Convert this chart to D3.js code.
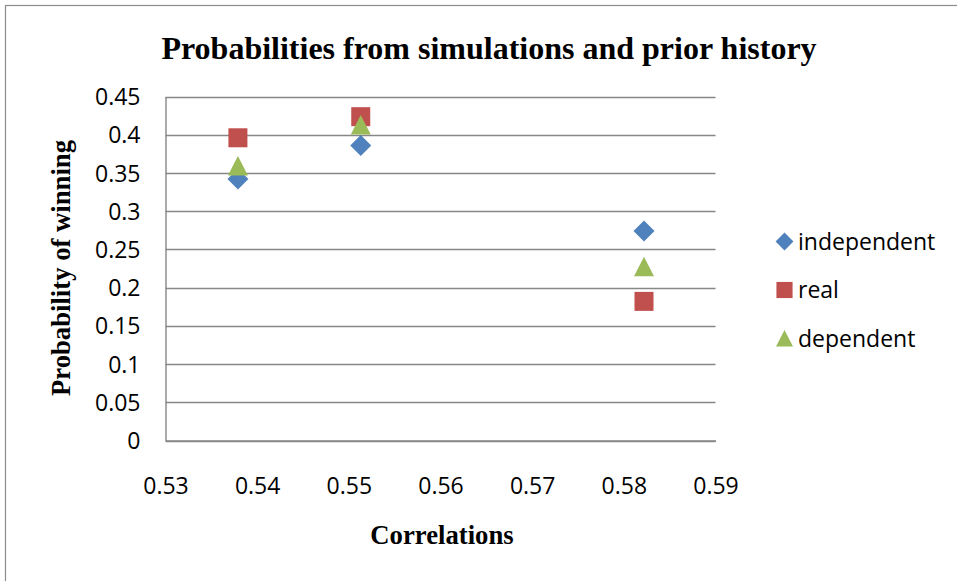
<!DOCTYPE html>
<html><head><meta charset="utf-8">
<script src="https://cdn.jsdelivr.net/npm/d3@7"></script>
<style>
html,body{margin:0;padding:0;background:#fff;overflow:hidden}
svg{display:block}
</style></head>
<body>
<svg id="chart" width="957" height="581"></svg>
<script>
const seriesNames = ["independent", "real", "dependent"];
const correlations = [0.5379, 0.5513, 0.5822];
const independentValues = [0.342, 0.386, 0.274];
const realValues = [0.396, 0.4236, 0.182];
const dependentValues = [0.359, 0.4127, 0.2274];
const xTicks = [0.53, 0.54, 0.55, 0.56, 0.57, 0.58, 0.59];
const yTicks = [0, 0.05, 0.1, 0.15, 0.2, 0.25, 0.3, 0.35, 0.4, 0.45];
const seriesColors = ["#4F81BD", "#C0504D", "#9BBB59"];
const titleText = "Probabilities from simulations and prior history";
const xTitle = "Correlations";
const yTitle = "Probability of winning";

(function () {
const svg = d3.select("#chart");
const pLeft = 165.5, pRight = 715.5, pTop = 96.5, pBottom = 440.5;
const x = d3.scaleLinear().domain([0.53, 0.59]).range([pLeft, pRight]);
const y = d3.scaleLinear().domain([0, 0.45]).range([pBottom, pTop]);
const grid = "#878787";
const sansFont = "'Open Sans', sans-serif";
const serifFont = "'Liberation Serif', 'Times New Roman', serif";

// outer border (clipped by the window on right and bottom)
svg.append("rect").attr("x", 5.5).attr("y", 5.5).attr("width", 1100).attr("height", 1100)
  .attr("fill", "none").attr("stroke", "#8c8c8c").attr("stroke-width", 1.2);

// gridlines
svg.append("g").selectAll("line").data(yTicks).join("line")
  .attr("x1", pLeft).attr("x2", pRight)
  .attr("y1", d => Math.round(y(d)) + 0.5).attr("y2", d => Math.round(y(d)) + 0.5)
  .attr("stroke", grid).attr("stroke-width", 1.4);

// axes
const yAxis = d3.axisLeft(y).tickValues(yTicks).tickSize(0).tickPadding(25)
  .tickFormat(d => String(+d.toFixed(2)));
const gy = svg.append("g").attr("transform", `translate(${pLeft},0)`).call(yAxis);
gy.select(".domain").attr("stroke", grid).attr("stroke-width", 1.4);
gy.selectAll("text").attr("font-family", sansFont).attr("font-size", 23).attr("fill", "#000").attr("dy", "0.35em");

const xAxis = d3.axisBottom(x).tickValues(xTicks).tickSize(0).tickPadding(37)
  .tickFormat(d => d.toFixed(2));
const gx = svg.append("g").attr("transform", `translate(0,${pBottom})`).call(xAxis);
gx.select(".domain").attr("stroke", grid).attr("stroke-width", 1.4);
gx.selectAll("text").attr("font-family", sansFont).attr("font-size", 23).attr("fill", "#000");

// markers
const allValues = [independentValues, realValues, dependentValues];
function markerPath(i) {
  if (i === 0) return "M0,-10.5L10.5,0L0,10.5L-10.5,0Z";
  if (i === 1) return "M-9.5,-9.5H9.5V9.5H-9.5Z";
  return "M0,-10L10,9.5H-10Z";
}
allValues.forEach((vals, i) => {
  svg.append("g").selectAll("path").data(vals).join("path")
    .attr("d", markerPath(i))
    .attr("transform", (d, j) => `translate(${x(correlations[j])},${y(d)})`)
    .attr("fill", seriesColors[i]);
});

// legend
const legendY = [241.5, 290, 338.5];
const lg = svg.append("g");
seriesNames.forEach((name, i) => {
  lg.append("path").attr("d", markerPath(i))
    .attr("transform", `translate(784.5,${legendY[i]}) scale(0.85)`)
    .attr("fill", seriesColors[i]);
  lg.append("text").attr("x", 798).attr("y", legendY[i]).attr("dy", "0.35em")
    .attr("font-family", sansFont).attr("font-size", 23).attr("fill", "#000").text(name);
});

// titles
svg.append("text").attr("x", 489).attr("y", 59).attr("text-anchor", "middle")
  .attr("font-family", serifFont).attr("font-weight", "bold").attr("font-size", 32)
  .attr("fill", "#000").text(titleText);
svg.append("text").attr("x", 442).attr("y", 544).attr("text-anchor", "middle")
  .attr("font-family", serifFont).attr("font-weight", "bold").attr("font-size", 26.7)
  .attr("fill", "#000").text(xTitle);
svg.append("text").attr("transform", "translate(70,268) rotate(-90)").attr("text-anchor", "middle")
  .attr("font-family", serifFont).attr("font-weight", "bold").attr("font-size", 26.7)
  .attr("fill", "#000").text(yTitle);
})();
</script>
</body></html>
